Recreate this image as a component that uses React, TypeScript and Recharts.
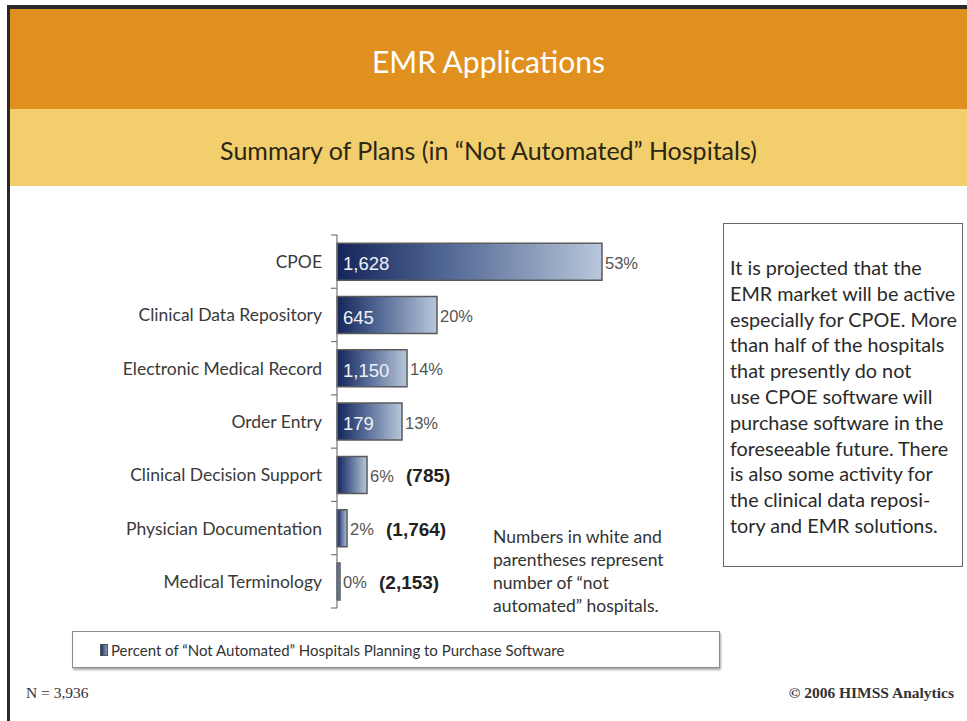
import React from 'react';
import { BarChart, Bar, XAxis, YAxis, LabelList, Legend } from 'recharts';

const categories = [
  'CPOE',
  'Clinical Data Repository',
  'Electronic Medical Record',
  'Order Entry',
  'Clinical Decision Support',
  'Physician Documentation',
  'Medical Terminology',
];
const percentPlanning = [53, 20, 14, 13, 6, 2, 0];
const notAutomatedCounts = [1628, 645, 1150, 179, 785, 1764, 2153];
const seriesName = 'Percent of \u201CNot Automated\u201D Hospitals Planning to Purchase Software';
const titleText = 'EMR Applications';
const subtitleText = 'Summary of Plans (in \u201CNot Automated\u201D Hospitals)';
const summaryLines = [
  'It is projected that the',
  'EMR market will be active',
  'especially for CPOE. More',
  'than half of the hospitals',
  'that presently do not',
  'use CPOE software will',
  'purchase software in the',
  'foreseeable future. There',
  'is also some activity for',
  'the clinical data reposi-',
  'tory and EMR solutions.',
];
const noteLines = [
  'Numbers in white and',
  'parentheses represent',
  'number of \u201Cnot',
  'automated\u201D hospitals.',
];
const sampleText = 'N = 3,936';
const copyrightText = '\u00A9 2006 HIMSS Analytics';

const data = categories.map((name, i) => ({
  name,
  pct: percentPlanning[i],
  count: notAutomatedCounts[i],
}));

const MYRIAD = 'Lato, "Open Sans", sans-serif';
const ARIAL = '"Liberation Sans", Arial, sans-serif';
const SERIF = '"Liberation Serif", "DejaVu Serif", serif';
const fmt = (n: number) => n.toLocaleString('en-US');

const CategoryTick = (props: any) => {
  const { x, y, payload, index } = props;
  const band = (608 - 235) / categories.length;
  const ax = x;
  return (
    <g>
      <text
        x={ax - 15}
        y={y}
        textAnchor="end"
        dominantBaseline="central"
        fontFamily={MYRIAD}
        fontSize={17.5}
        fill="#3a3a3a"
      >
        {payload.value}
      </text>
      <line x1={ax - 6} x2={ax} y1={y - band / 2} y2={y - band / 2} stroke="#777" strokeWidth={1.2} />
      {index === categories.length - 1 && (
        <line x1={ax - 6} x2={ax} y1={y + band / 2} y2={y + band / 2} stroke="#777" strokeWidth={1.2} />
      )}
    </g>
  );
};

const PctLabel = (props: any) => {
  const { x, y, width, height, value } = props;
  return (
    <text
      x={x + width + 3}
      y={y + height / 2 + 1}
      dominantBaseline="central"
      fontFamily={ARIAL}
      fontSize={16.5}
      fill="#555"
    >
      {`${value}%`}
    </text>
  );
};

const CountLabel = (props: any) => {
  const { x, y, width, height, value, index } = props;
  const inside = percentPlanning[index] >= 10;
  if (inside) {
    return (
      <text
        x={x + 6}
        y={y + height / 2 + 2}
        dominantBaseline="central"
        fontFamily={ARIAL}
        fontSize={18.5}
        fill="#eef1f6"
      >
        {fmt(value)}
      </text>
    );
  }
  return (
    <text
      x={x + width + 39}
      y={y + height / 2 + 1}
      dominantBaseline="central"
      fontFamily={ARIAL}
      fontSize={19}
      fontWeight="bold"
      fill="#222"
    >
      {`(${fmt(value)})`}
    </text>
  );
};

const LegendBox = (props: any) => {
  const item = (props.payload && props.payload[0]) || { value: seriesName };
  return (
    <div
      style={{
        boxSizing: 'border-box',
        width: 648,
        height: 37,
        border: '1px solid #8a8a8a',
        boxShadow: '1px 2px 2px #aaa',
        background: '#fff',
        display: 'flex',
        alignItems: 'center',
        paddingLeft: 27,
      }}
    >
      <svg width={8} height={12} style={{ marginRight: 3 }}>
        <rect x={0.5} y={0.5} width={7} height={11} fill="url(#legendGrad)" stroke="#555" strokeWidth={1} />
      </svg>
      <span style={{ fontFamily: MYRIAD, fontSize: 15, color: '#333' }}>{item.value}</span>
    </div>
  );
};

export default function App() {
  return (
    <div style={{ position: 'relative', width: 967, height: 721, background: '#fff', overflow: 'hidden' }}>
      <style>{'body{margin:0;}'}</style>
      {/* frame */}
      <div style={{ position: 'absolute', left: 7, top: 5, width: 960, height: 4, background: '#2a2a2a' }} />
      <div style={{ position: 'absolute', left: 7, top: 5, width: 3, height: 716, background: '#2a2a2a' }} />
      {/* header */}
      <div
        style={{
          position: 'absolute',
          left: 10,
          top: 9,
          width: 957,
          height: 100,
          background: '#E0901E',
          color: '#fff',
          fontFamily: MYRIAD,
          fontSize: 30,
          display: 'flex',
          alignItems: 'center',
          justifyContent: 'center',
          paddingTop: 4,
          boxSizing: 'border-box',
        }}
      >
        {titleText}
      </div>
      <div
        style={{
          position: 'absolute',
          left: 10,
          top: 109,
          width: 957,
          height: 77,
          background: '#F2CE6C',
          color: '#2b2616',
          fontFamily: MYRIAD,
          fontSize: 25,
          display: 'flex',
          alignItems: 'center',
          justifyContent: 'center',
          boxSizing: 'border-box',
          paddingTop: 5,
        }}
      >
        {subtitleText}
      </div>

      {/* chart */}
      <div style={{ position: 'absolute', left: 0, top: 0 }}>
        <BarChart
          width={967}
          height={721}
          data={data}
          layout="vertical"
          margin={{ top: 235, right: 330, bottom: 113, left: 0 }}
          barCategoryGap="15.5%"
        >
          <defs>
            <linearGradient id="barGrad" x1="0" y1="0" x2="1" y2="0">
              <stop offset="0%" stopColor="#15255a" />
              <stop offset="40%" stopColor="#4f6592" />
              <stop offset="100%" stopColor="#b8c7da" />
            </linearGradient>
            <linearGradient id="legendGrad" x1="0" y1="0" x2="1" y2="0">
              <stop offset="0%" stopColor="#17275a" />
              <stop offset="100%" stopColor="#8fa3c2" />
            </linearGradient>
          </defs>
          <XAxis type="number" domain={[0, 60]} hide />
          <YAxis
            type="category"
            dataKey="name"
            width={337}
            axisLine={{ stroke: '#777', strokeWidth: 1.2 }}
            tickLine={false}
            tickSize={0}
            tickMargin={0}
            tick={<CategoryTick />}
            interval={0}
          />
          <Legend
            verticalAlign="middle"
            align="center"
            layout="horizontal"
            content={<LegendBox />}
            wrapperStyle={{ left: 72, top: 631, width: 648, height: 37 }}
          />
          <Bar
            dataKey="pct"
            name={seriesName}
            fill="url(#barGrad)"
            stroke="#5a5a5a"
            strokeWidth={1.5}
            minPointSize={3}
            isAnimationActive={false}
          >
            <LabelList dataKey="pct" content={<PctLabel />} />
            <LabelList dataKey="count" content={<CountLabel />} />
          </Bar>
        </BarChart>
      </div>

      {/* note */}
      <div
        style={{
          position: 'absolute',
          left: 493,
          top: 525,
          fontFamily: MYRIAD,
          fontSize: 17.5,
          lineHeight: '23px',
          color: '#333',
          whiteSpace: 'pre',
        }}
      >
        {noteLines.join('\n')}
      </div>

      {/* summary box */}
      <div
        style={{
          position: 'absolute',
          left: 723,
          top: 223,
          width: 240,
          height: 344,
          boxSizing: 'border-box',
          border: '1.5px solid #666',
          padding: '31px 0 0 6px',
          fontFamily: MYRIAD,
          fontSize: 19.8,
          lineHeight: '25.8px',
          color: '#2a2a2a',
          whiteSpace: 'pre',
        }}
      >
        {summaryLines.join('\n')}
      </div>

      {/* footer */}
      <div
        style={{
          position: 'absolute',
          left: 26,
          top: 684,
          fontFamily: SERIF,
          fontSize: 15.5,
          color: '#333',
        }}
      >
        {sampleText}
      </div>
      <div
        style={{
          position: 'absolute',
          right: 13,
          top: 684,
          fontFamily: SERIF,
          fontSize: 15.5,
          fontWeight: 'bold',
          color: '#333',
        }}
      >
        {copyrightText}
      </div>
    </div>
  );
}
